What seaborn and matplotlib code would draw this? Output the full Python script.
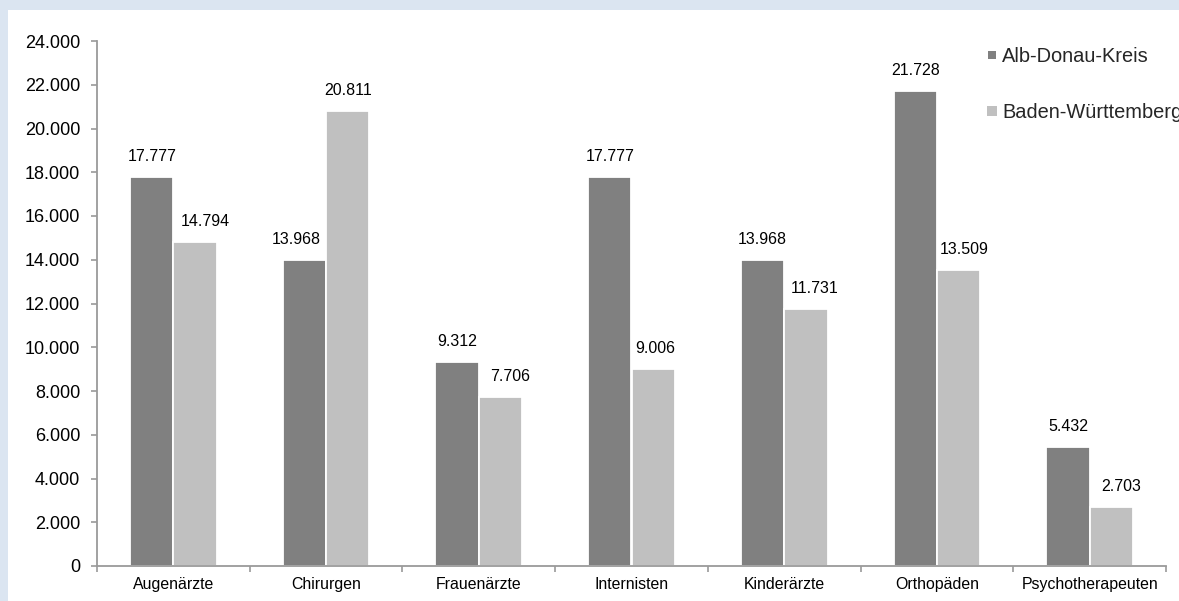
import matplotlib
matplotlib.use("Agg")
import matplotlib.pyplot as plt
import seaborn as sns
import pandas as pd
import numpy as np
from matplotlib.lines import Line2D
from matplotlib.patches import Rectangle
from matplotlib.ticker import FuncFormatter, FixedLocator

categories = ["Augenärzte", "Chirurgen", "Frauenärzte", "Internisten",
              "Kinderärzte", "Orthopäden", "Psychotherapeuten"]
series_names = ["Alb-Donau-Kreis", "Baden-Württemberg"]
alb_donau = [17777, 13968, 9312, 17777, 13968, 21728, 5432]
baden_wuerttemberg = [14794, 20811, 7706, 9006, 11731, 13509, 2703]
y_ticks = list(range(0, 24001, 2000))

# horizontal nudges (pixels) of the data labels, as placed in the original
label_dx = [[0, -8, 0, 0, 0, 0, 0],
            [10, 0, 10, 2, 9, 6, 10]]

colors = ["#808080", "#c0c0c0"]

df = pd.DataFrame({
    "Kategorie": categories * 2,
    "Region": [series_names[0]] * len(categories) + [series_names[1]] * len(categories),
    "Wert": alb_donau + baden_wuerttemberg,
})

sns.set_theme(style="white")
plt.rcParams["font.family"] = ["Liberation Sans", "DejaVu Sans"]

W, H = 1179, 601
fig = plt.figure(figsize=(W / 100, H / 100), dpi=100)
fig.patch.set_facecolor("#dbe5f1")
fig.add_artist(Rectangle((8 / W, 0), 1 - 8 / W, 1 - 10 / H, transform=fig.transFigure,
                         facecolor="white", edgecolor="none", zorder=0))

ax = fig.add_axes([97 / W, 1 - 566 / H, (1166 - 97) / W, (566 - 41) / H])
ax.set_facecolor("none")

sns.barplot(data=df, x="Kategorie", y="Wert", hue="Region", palette=colors,
            width=0.567, edgecolor="white", linewidth=1.3, ax=ax, legend=False,
            saturation=1)

def de_fmt(v):
    return f"{int(round(v)):,}".replace(",", ".")

for cont, vals, dxs in zip(ax.containers, [alb_donau, baden_wuerttemberg], label_dx):
    for bar, v, dx in zip(cont.patches, vals, dxs):
        ax.annotate(de_fmt(v), (bar.get_x() + bar.get_width() / 2, bar.get_height()),
                    xytext=(dx, 16), textcoords="offset pixels",
                    ha="center", va="baseline", fontsize=11.5, color="black")

ax.set_ylim(0, 24000)
ax.set_xlim(-0.5, len(categories) - 0.5)
ax.set_yticks(y_ticks)
ax.yaxis.set_major_formatter(FuncFormatter(lambda v, p: de_fmt(v)))
ax.set_xlabel("")
ax.set_ylabel("")

for s in ["top", "right"]:
    ax.spines[s].set_visible(False)
for s in ["left", "bottom"]:
    ax.spines[s].set_color("#9a9a9a")
    ax.spines[s].set_linewidth(1.3)

ax.tick_params(axis="y", which="major", direction="out", length=4, width=1.2,
               color="#9a9a9a", pad=8, labelsize=13, labelcolor="black", left=True)
ax.tick_params(axis="x", which="major", length=0, pad=8, labelsize=11.4,
               labelcolor="black")
ax.xaxis.set_minor_locator(FixedLocator(np.arange(-0.5, len(categories), 1.0)))
ax.tick_params(axis="x", which="minor", direction="out", length=4, width=1.2,
               color="#9a9a9a", bottom=True)

handles = [Line2D([], [], marker="s", linestyle="", markersize=ms, color=c,
                  markeredgewidth=0)
           for c, ms in zip(colors, [5.5, 7])]
fig.legend(handles, series_names, loc="upper left",
           bbox_to_anchor=(986 / W, 1 - 47 / H), frameon=False, fontsize=14.4,
           handlelength=0.6, handletextpad=0.2, labelspacing=1.85,
           borderpad=0, borderaxespad=0)

fig.savefig("out.png", dpi=100, facecolor=fig.get_facecolor())
